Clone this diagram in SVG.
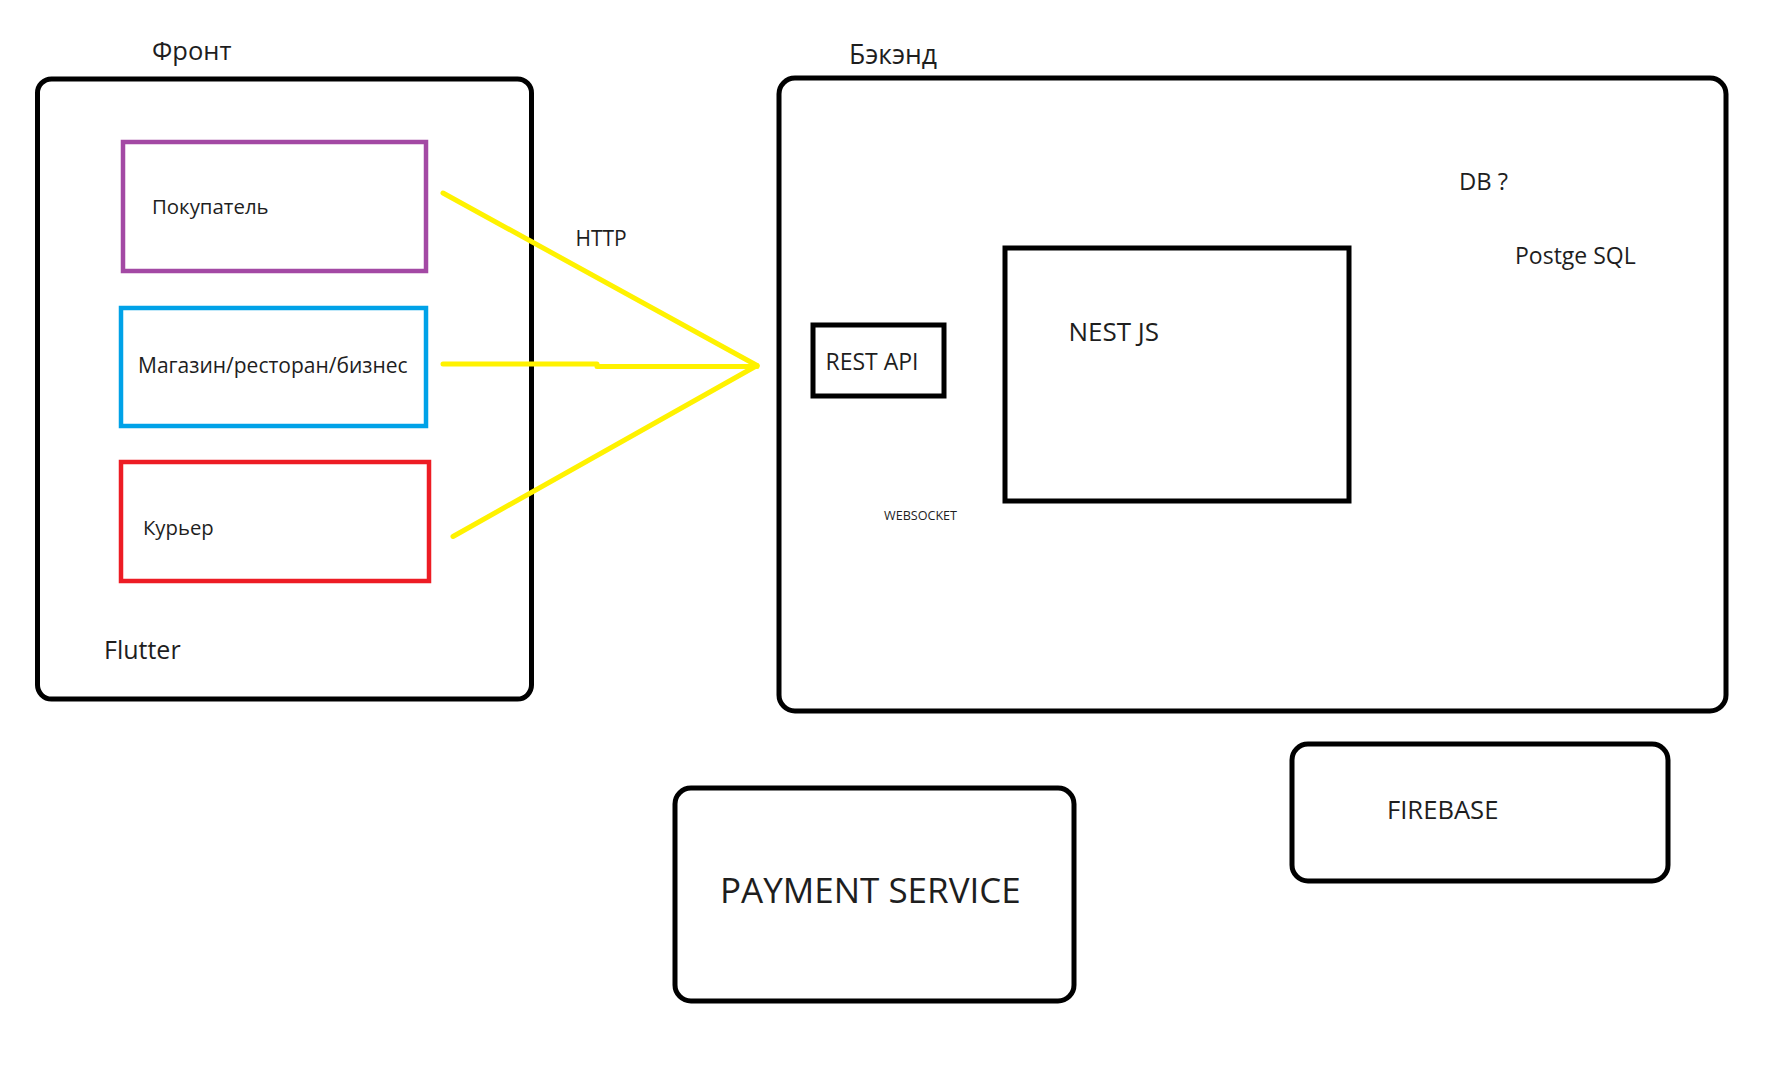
<svg xmlns="http://www.w3.org/2000/svg" width="1790" height="1081" viewBox="0 0 1790 1081">
<style>
  text { font-family: "Open Sans", "Noto Sans", "DejaVu Sans", sans-serif; fill: #1e1e1e; }
  .frame { fill: none; stroke: #000; stroke-width: 5; }
  .box { fill: none; stroke-width: 4.5; }
  .conn { fill: none; stroke: #FFF200; stroke-width: 5; stroke-linecap: round; stroke-linejoin: round; }
</style>
<rect width="1790" height="1081" fill="#fff"/>
<g id="front">
  <rect class="frame" x="37.5" y="79" width="494" height="620" rx="14"/>
  <text x="152" y="60" font-size="25.5">Фронт</text>
  <text x="104" y="659" font-size="25">Flutter</text>
</g>
<g id="buyer">
  <rect class="box" x="123" y="142" width="303" height="129" stroke="#A349A4"/>
  <text x="152" y="213.5" font-size="20.4">Покупатель</text>
</g>
<g id="shop">
  <rect class="box" x="121" y="308" width="305" height="118" stroke="#00A2E8"/>
  <text x="138" y="372.5" font-size="21">Магазин/ресторан/бизнес</text>
</g>
<g id="courier">
  <rect class="box" x="121" y="462" width="308" height="119" stroke="#ED1C24"/>
  <text x="143" y="534.5" font-size="20.3">Курьер</text>
</g>
<g id="backend">
  <rect class="frame" x="779" y="78" width="947" height="633" rx="16"/>
  <text x="849" y="64" font-size="26.5">Бэкэнд</text>
  <text x="1459" y="190" font-size="23.8">DB ?</text>
  <text x="1515" y="264" font-size="23">Postge SQL</text>
  <text x="884" y="520" font-size="12.6">WEBSOCKET</text>
</g>
<g id="rest-api">
  <rect class="frame" x="813" y="325" width="131" height="71" stroke-width="4.5"/>
  <text x="825.5" y="370" font-size="23">REST API</text>
</g>
<g id="nest-js">
  <rect class="frame" x="1005" y="248" width="344" height="253" stroke-width="4.5"/>
  <text x="1068.5" y="341" font-size="26">NEST JS</text>
</g>
<g id="payment-service">
  <rect class="frame" x="675" y="788" width="399" height="213" rx="16"/>
  <text x="720" y="903" font-size="35">PAYMENT SERVICE</text>
</g>
<g id="firebase">
  <rect class="frame" x="1292" y="744" width="376" height="137" rx="16"/>
  <text x="1387" y="819" font-size="25.6">FIREBASE</text>
</g>
<g id="connectors">
  <polyline class="conn" points="443,193 757,365.5"/>
  <polyline class="conn" points="443,364 597,364 597,366.5 757,366.5"/>
  <polyline class="conn" points="453,536.5 757,365.5"/>
  <text x="575.5" y="246" font-size="21">HTTP</text>
</g>
</svg>
